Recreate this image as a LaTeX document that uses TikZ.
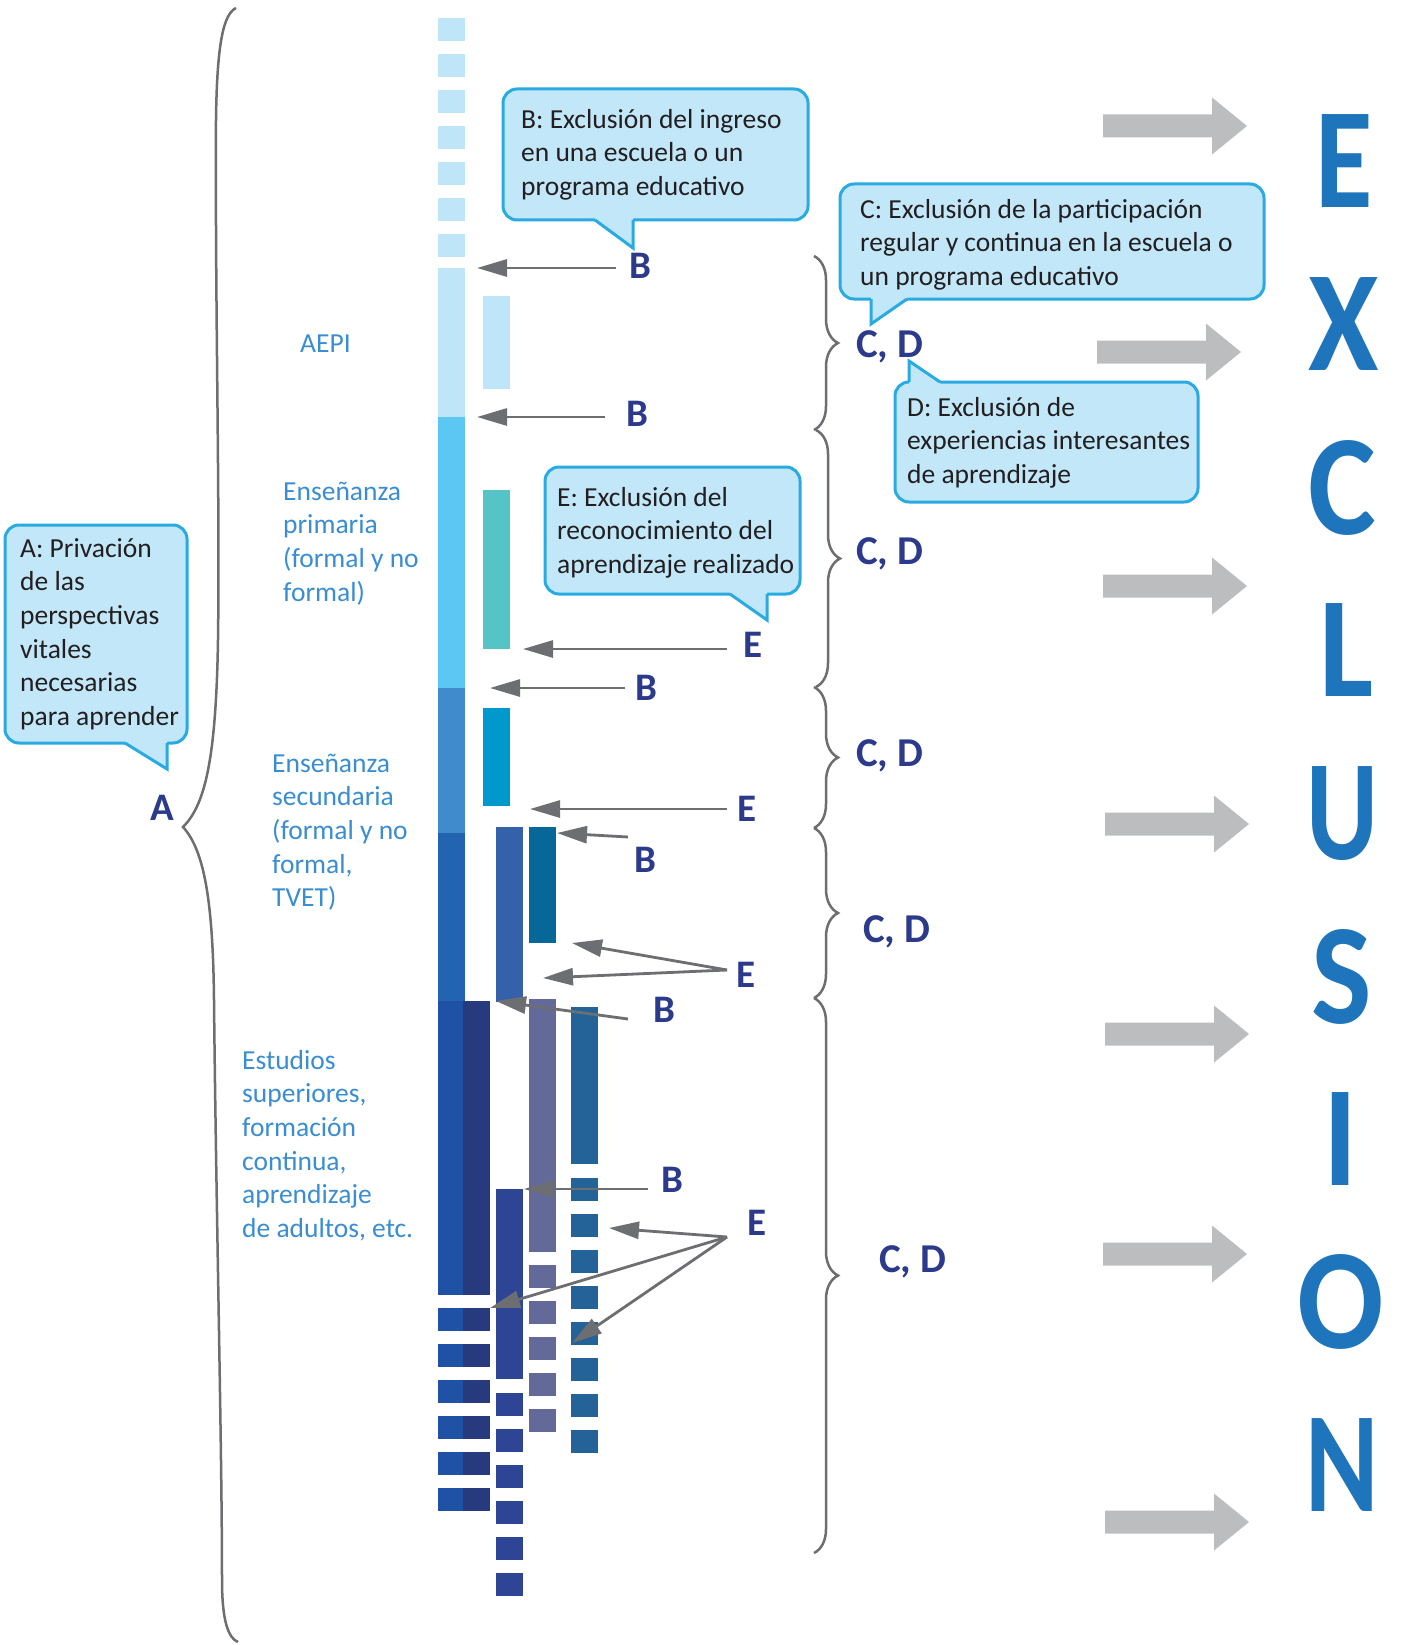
\documentclass[tikz,border=0pt]{standalone}
\usepackage{fontspec}
\setmainfont{Carlito}
\usetikzlibrary{arrows.meta,decorations.pathreplacing,calc}
\definecolor{cA}{HTML}{BEE5F8}
\definecolor{cB}{HTML}{5BC7F2}
\definecolor{cC}{HTML}{3F8BCB}
\definecolor{cD}{HTML}{2264B0}
\definecolor{cE}{HTML}{1F52A4}
\definecolor{cF}{HTML}{283A7E}
\definecolor{cTeal}{HTML}{55C4C6}
\definecolor{cCyan}{HTML}{0099CB}
\definecolor{cG}{HTML}{3561AB}
\definecolor{cH}{HTML}{066899}
\definecolor{cPurp}{HTML}{636A9A}
\definecolor{cI}{HTML}{236397}
\definecolor{cJ}{HTML}{2E4596}
\definecolor{bfill}{HTML}{C1E7F9}
\definecolor{bline}{HTML}{29ABE2}
\definecolor{lblue}{HTML}{3A8DD1}
\definecolor{navy}{HTML}{2B3A8A}
\definecolor{agray}{HTML}{6D6E71}
\definecolor{biggray}{HTML}{BCBDBF}
\definecolor{bigblue}{HTML}{1F75BC}
\definecolor{tdark}{HTML}{231F20}
\newcommand\talk[6]{%
  \draw[bubble] #1 rectangle #2;
  \fill[bfill] ($#3+#6$) -- #3 -- #4 -- #5 -- ($#5+#6$) -- cycle;
  \draw[bubline] #3 -- #4 -- #5;}
\begin{document}
\begin{tikzpicture}[x=1pt,y=-1pt,
  garrow/.style={draw=agray,line width=2.8pt,-{Triangle[length=30pt,width=17pt]}},
  lbl/.style={font=\fontsize{39}{40}\selectfont\bfseries,text=navy,inner sep=0pt,text depth=0pt},
  cdl/.style={font=\fontsize{41}{42}\selectfont\bfseries,text=navy,inner sep=0pt,text depth=0pt},
  bubtext/.style={font=\fontsize{27.5}{33.6}\selectfont,text=tdark,align=left,inner sep=0pt,anchor=north west},
  lvl/.style={font=\fontsize{27.5}{33.6}\selectfont,text=lblue,align=left,inner sep=0pt,anchor=north west},
  bubble/.style={draw=bline,fill=bfill,line width=3pt,rounded corners=14pt},
  bubline/.style={draw=bline,line width=3pt,line join=miter},
  rbrace/.style={draw=agray,line width=2.5pt,decorate,decoration={brace,amplitude=24pt,aspect=0.5}},
  bigl/.style={font=\fontsize{128}{130}\selectfont\bfseries,text=bigblue,inner sep=0pt,text depth=0pt}
]
\useasboundingbox[fill=white] (0,0) rectangle (1403,1645);

% ---- bars ----
\foreach \y in {18,54,...,234} \fill[cA] (438,\y) rectangle (465,\y+23);
\fill[cA] (438,268) rectangle (465,417);
\fill[cB] (438,417) rectangle (465,688);
\fill[cC] (438,688) rectangle (465,833);
\fill[cD] (438,833) rectangle (465,1001);
\fill[cE] (438,1001) rectangle (463,1295);
\fill[cF] (463,1001) rectangle (490,1295);
\foreach \y in {1308,1344,...,1488} {
  \fill[cE] (438,\y) rectangle (463,\y+23);
  \fill[cF] (463,\y) rectangle (490,\y+23);}
\fill[cA] (483,296) rectangle (510,389);
\fill[cTeal] (483,490) rectangle (510,649);
\fill[cCyan] (483,708) rectangle (510,806);
\fill[cG] (496,827) rectangle (523,1002);
\fill[cH] (529,827) rectangle (556,943);
\fill[cPurp] (529,999) rectangle (556,1252);
\foreach \y in {1265,1301,...,1409} \fill[cPurp] (529,\y) rectangle (556,\y+23);
\fill[cI] (571,1007) rectangle (598,1164);
\foreach \y in {1178,1214,...,1430} \fill[cI] (571,\y) rectangle (598,\y+23);
\fill[cJ] (496,1189) rectangle (523,1379);
\foreach \y in {1393,1429,...,1573} \fill[cJ] (496,\y) rectangle (523,\y+23);

% ---- level labels ----
\node[lvl] (aepi) at (300,328.5) {\strut AEPI};
\node[lvl] (prim) at (283,476.5) {\strut Enseñanza\\primaria\\(formal y no\\formal)};
\node[lvl] (secu) at (272,748.5) {\strut Enseñanza\\secundaria\\(formal y no\\formal,\\TVET)};
\node[lvl] (high) at (242,1045.5) {\strut Estudios\\superiores,\\formación\\continua,\\aprendizaje\\de adultos, etc.};

% ---- B / E labels ----
\node[lbl] (b1) at (640,266) {B};
\node[lbl] (b2) at (637,414) {B};
\node[lbl] (e1) at (753,645) {E};
\node[lbl] (b3) at (646,688) {B};
\node[lbl] (e2) at (747,809) {E};
\node[lbl] (b4) at (645,860) {B};
\node[lbl] (e3) at (746,975) {E};
\node[lbl] (b5) at (664,1010) {B};
\node[lbl] (b6) at (672,1180) {B};
\node[lbl] (e4) at (757,1223) {E};
\node[lbl] (la) at (162,808) {A};

% ---- arrows ----
\coordinate (s1) at (616,268);  \coordinate (t1) at (477,268);
\coordinate (s2) at (605,417);  \coordinate (t2) at (477,417);
\coordinate (s3) at (727,649);  \coordinate (t3) at (523,649);
\coordinate (s4) at (625,688);  \coordinate (t4) at (490,688);
\coordinate (s5) at (727,809);  \coordinate (t5) at (530,809);
\coordinate (s6) at (628,837);  \coordinate (t6) at (557,833);
\coordinate (s7) at (727,970);  \coordinate (t7a) at (572,943); \coordinate (t7b) at (543,978);
\coordinate (s8) at (628,1019); \coordinate (t8) at (496,1001);
\coordinate (s9) at (648,1189); \coordinate (t9) at (524,1189);
\coordinate (s10) at (727,1237); \coordinate (t10a) at (609,1228);
\coordinate (t10b) at (490,1308); \coordinate (t10c) at (572,1343);
\draw[garrow] (s1) -- (t1);
\draw[garrow] (s2) -- (t2);
\draw[garrow] (s3) -- (t3);
\draw[garrow] (s4) -- (t4);
\draw[garrow] (s5) -- (t5);
\draw[garrow] (s6) -- (t6);
\draw[garrow] (s7) -- (t7a);
\draw[garrow] (s7) -- (t7b);
\draw[garrow] (s8) -- (t8);
\draw[garrow] (s9) -- (t9);
\draw[garrow] (s10) -- (t10a);
\draw[garrow] (s10) -- (t10b);
\draw[garrow] (s10) -- (t10c);

% ---- bubbles ----
\talk{(5,525)}{(187,743)}{(125,743)}{(167,769)}{(167,743)}{(0,-2.5)}
\talk{(503,89)}{(808,220)}{(595,220)}{(633,248)}{(633,220)}{(0,-2.5)}
\talk{(840,184)}{(1264,299)}{(907,299)}{(871,324)}{(871,299)}{(0,-2.5)}
\talk{(895,382)}{(1198,502)}{(940,382)}{(909,361)}{(909,382)}{(0,2.5)}
\talk{(545,467)}{(800,594)}{(730,594)}{(767,620)}{(767,594)}{(0,-2.5)}
\node[bubtext] (ta) at (20,533.5) {\strut A: Privación\\de las\\perspectivas\\vitales\\necesarias\\para aprender};
\node[bubtext] (tb) at (521,104.5) {\strut B: Exclusión del ingreso\\en una escuela o un\\programa educativo};
\node[bubtext] (tc) at (860,194.5) {\strut C: Exclusión de la participación\\regular y continua en la escuela o\\un programa educativo};
\node[bubtext] (td) at (907,392.5) {\strut D: Exclusión de\\experiencias interesantes\\de aprendizaje};
\node[bubtext] (te) at (557,482.5) {\strut E: Exclusión del\\reconocimiento del\\aprendizaje realizado};

% ---- braces ----
\draw[draw=agray,line width=2.5pt] (236,8) .. controls (224,14) and (217,40) .. (216,120)
  .. controls (215,300) and (220,500) .. (218,640)
  .. controls (216,760) and (205,805) .. (183,827)
  .. controls (204,850) and (213,900) .. (214,1000)
  .. controls (216,1200) and (222,1450) .. (222,1580)
  .. controls (222,1620) and (228,1638) .. (238,1642);
\draw[rbrace] (814,256) -- (814,430);
\draw[rbrace] (816,430) -- (816,687);
\draw[rbrace] (814,687) -- (814,828);
\draw[rbrace] (814,828) -- (814,998);
\draw[rbrace] (814,998) -- (814,1553);
\node[cdl] (cd1) at (890,344) {C, D};
\node[cdl] (cd2) at (890,551) {C, D};
\node[cdl] (cd3) at (890,753) {C, D};
\node[cdl] (cd4) at (897,929) {C, D};
\node[cdl] (cd5) at (913,1259) {C, D};

% ---- grey arrows ----
\foreach \x/\y in {1103/126, 1097/352, 1103/586, 1105/824, 1105/1034, 1103/1254, 1105/1522}
  \fill[biggray] (\x,\y-11.5) -- (\x+109,\y-11.5) -- (\x+109,\y-28.5) -- (\x+144,\y)
     -- (\x+109,\y+28.5) -- (\x+109,\y+11.5) -- (\x,\y+11.5) -- cycle;

% ---- EXCLUSION ----
\node[bigl] (xe) at (1344,161) {\scalebox{0.92}[1.12]{E}};
\node[bigl] (xx) at (1344,324) {\scalebox{1}[1.12]{X}};
\node[bigl] (xc) at (1342,487) {\scalebox{1}[1.12]{C}};
\node[bigl] (xl) at (1347,650) {\scalebox{1}[1.12]{L}};
\node[bigl] (xu) at (1342,813) {\scalebox{0.86}[1.12]{U}};
\node[bigl] (xs) at (1342,976) {\scalebox{1}[1.12]{S}};
\node[bigl] (xi) at (1341,1139) {\scalebox{1}[1.12]{I}};
\node[bigl] (xo) at (1341,1301) {\scalebox{1}[1.12]{O}};
\node[bigl] (xn) at (1342,1465) {\scalebox{0.87}[1.12]{N}};
\end{tikzpicture}
\end{document}
